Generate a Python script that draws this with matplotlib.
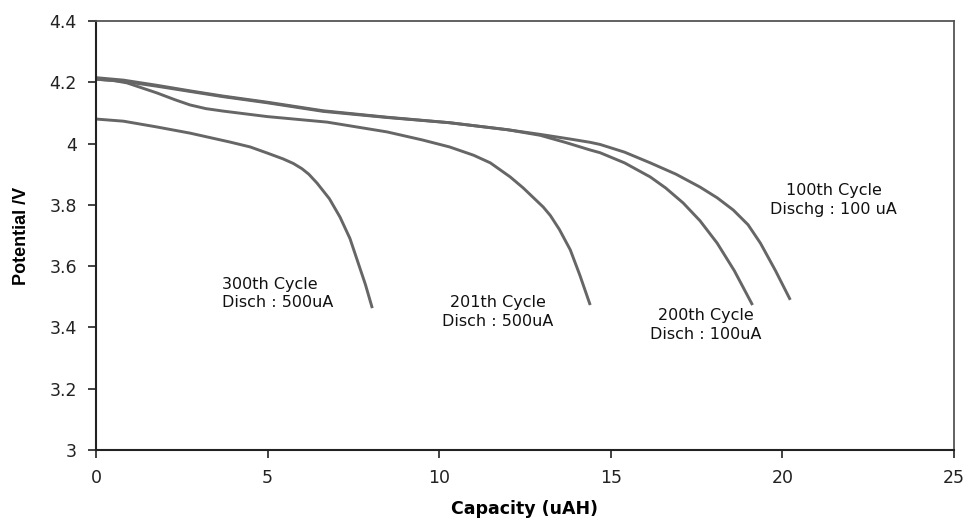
import matplotlib
matplotlib.use("Agg")
import matplotlib.pyplot as plt

plt.rcParams['font.family'] = ['DejaVu Sans']

# 100th cycle, discharge 100 uA
cap_100 = [0, 0.8, 1.78, 2.74, 3.7, 4.99, 6.62, 8.48, 10.3, 12.0, 12.94, 13.8, 14.4,
           14.69, 15.4, 16.15, 16.9, 17.6, 18.1, 18.57, 19.0, 19.36, 19.8, 20.23]
v_100 = [4.21, 4.203, 4.187, 4.17, 4.153, 4.133, 4.105, 4.085, 4.068, 4.045, 4.03, 4.015, 4.004,
         3.997, 3.972, 3.937, 3.9, 3.858, 3.823, 3.783, 3.735, 3.675, 3.585, 3.49]
# 200th cycle, discharge 100 uA
cap_200 = [0, 0.8, 1.78, 2.74, 3.7, 4.99, 6.62, 8.48, 10.3, 12.0, 12.94, 13.7, 14.4,
           14.69, 15.4, 16.15, 16.6, 17.11, 17.6, 18.1, 18.6, 19.13]
v_200 = [4.215, 4.207, 4.19, 4.172, 4.155, 4.135, 4.107, 4.086, 4.068, 4.045, 4.027, 4.003, 3.979,
         3.97, 3.937, 3.891, 3.855, 3.806, 3.748, 3.675, 3.585, 3.473]
# 201th cycle, discharge 500 uA
cap_201 = [0, 0.5, 0.9, 1.3, 1.78, 2.3, 2.74, 3.2, 3.7, 4.99, 6.73, 8.48, 9.5, 10.3,
           11.0, 11.49, 12.07, 12.45, 13.03, 13.24, 13.5, 13.82, 14.1, 14.4]
v_201 = [4.21, 4.206, 4.198, 4.183, 4.165, 4.143, 4.126, 4.114, 4.106, 4.088, 4.07, 4.038, 4.012, 3.989,
         3.962, 3.937, 3.891, 3.855, 3.793, 3.765, 3.72, 3.653, 3.57, 3.473]
# 300th cycle, discharge 500 uA
cap_300 = [0, 0.8, 1.78, 2.74, 3.9, 4.49, 4.99, 5.45, 5.75, 6.0, 6.2, 6.44, 6.8, 7.11, 7.4,
           7.61, 7.85, 8.05]
v_300 = [4.08, 4.073, 4.054, 4.034, 4.005, 3.989, 3.969, 3.95, 3.935, 3.918, 3.9, 3.871, 3.82,
         3.76, 3.69, 3.62, 3.54, 3.463]

x_ticks = [0, 5, 10, 15, 20, 25]
y_ticks = [3, 3.2, 3.4, 3.6, 3.8, 4, 4.2, 4.4]
y_tick_labels = ['3', '3.2', '3.4', '3.6', '3.8', '4', '4.2', '4.4']

fig = plt.figure(figsize=(9.64, 5.18), dpi=100)
ax = fig.add_axes([0.0996, 0.1313, 0.89, 0.8282])

col = '#666666'
for c, v in [(cap_300, v_300), (cap_201, v_201), (cap_200, v_200), (cap_100, v_100)]:
    ax.plot(c, v, color=col, lw=2.1, solid_joinstyle='round', solid_capstyle='butt')

ax.set_xlim(0, 25)
ax.set_ylim(3, 4.4)
ax.set_xticks(x_ticks)
ax.set_xticklabels([str(t) for t in x_ticks])
ax.set_yticks(y_ticks)
ax.set_yticklabels(y_tick_labels)
ax.tick_params(axis='both', direction='out', length=5.8, width=1.2, labelsize=12.5,
               colors='#222222', pad=8)

for s in ['left', 'bottom']:
    ax.spines[s].set_color('#222222')
    ax.spines[s].set_linewidth(1.5)
for s in ['top', 'right']:
    ax.spines[s].set_color('#555555')
    ax.spines[s].set_linewidth(1.3)

ax.set_xlabel('Capacity (uAH)', fontsize=12.5, fontweight='bold', labelpad=9)
ax.set_ylabel('Potential /V', fontsize=13, fontweight='bold', labelpad=14,
              family=['Liberation Sans', 'DejaVu Sans'])

tkw = dict(fontsize=11.5, color='#111111', linespacing=1.3)
ax.text(21.5, 3.816, '100th Cycle\nDischg : 100 uA', ha='center', va='center', **tkw)
ax.text(17.76, 3.408, '200th Cycle\nDisch : 100uA', ha='center', va='center', **tkw)
ax.text(11.7, 3.45, '201th Cycle\nDisch : 500uA', ha='center', va='center', **tkw)
ax.text(3.67, 3.511, '300th Cycle\nDisch : 500uA', ha='left', va='center', **tkw)

fig.savefig('out.png', dpi=100)
